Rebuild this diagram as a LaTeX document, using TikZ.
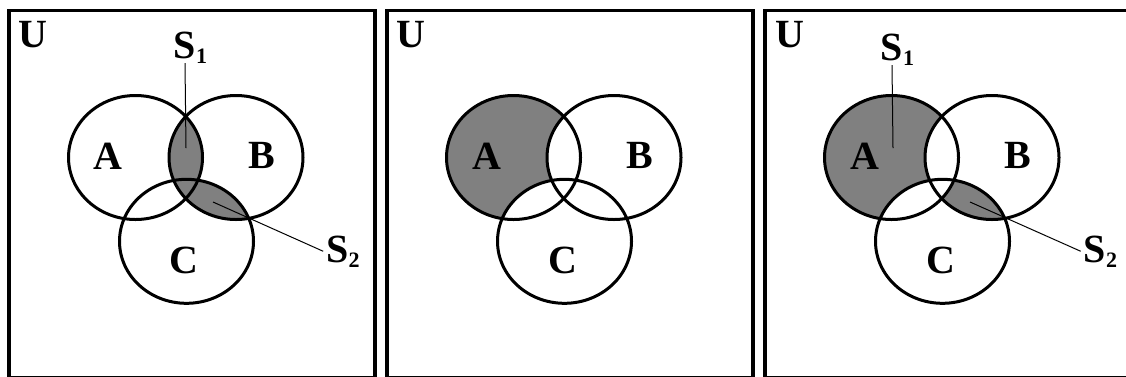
\documentclass[tikz,border=0pt]{standalone}
\usepackage{fontspec}
\setmainfont{Liberation Serif}
\usetikzlibrary{positioning}

\newcommand{\subidx}[1]{\raisebox{-5pt}{\fontsize{22}{22}\selectfont #1}}
\newcommand{\ringA}{(126.5,157.5) ellipse [x radius=67pt, y radius=62pt]}
\newcommand{\ringB}{(227,157.5) ellipse [x radius=67pt, y radius=62pt]}
\newcommand{\ringC}{(177.5,241.3) ellipse [x radius=67pt, y radius=62pt]}

\tikzset{
  frame/.style={line width=3.5pt},
  ring/.style={line width=3pt},
  shaded/.style={fill=black!50},
  lbl/.style={font=\fontsize{40}{40}\selectfont\bfseries, inner sep=0pt, anchor=base},
  tag/.style={lbl, inner xsep=3pt},
  pointer/.style={line width=1pt},
}

\begin{document}
\begin{tikzpicture}[x=1pt,y=-1pt]
\useasboundingbox (0,0) rectangle (1126,376);

% left panel
\begin{scope}[xshift=9pt]
\draw[frame] (0,10.5) rectangle (366,378);
\begin{scope}
\clip \ringB;
\fill[shaded] \ringA;
\fill[shaded] \ringC;
\end{scope}
\draw[ring] \ringA;
\draw[ring] \ringB;
\draw[ring] \ringC;
\node[lbl] (u1) at (24,47) {U};
\node[lbl] (a1) at (99,169) {A};
\node[lbl] (b1) at (252.5,168) {B};
\node[lbl] (c1) at (175,273) {C};
\node[tag] (s1a) at (176,58) {S\rlap{\subidx{1}}};
\node[tag] (s2a) at (328.5,262) {S\rlap{\subidx{2}}};
\coordinate (s1atip) at (177,148);
\coordinate (s2atip) at (204,202);
\draw[pointer] (s1a.south) -- (s1atip);
\draw[pointer] (s2atip) -- (s2a.west);
\end{scope}

% middle panel
\begin{scope}[xshift=387pt]
\draw[frame] (0,10.5) rectangle (366,378);
\fill[shaded] \ringA;
\fill[white] \ringB;
\fill[white] \ringC;
\draw[ring] \ringA;
\draw[ring] \ringB;
\draw[ring] \ringC;
\node[lbl] (u2) at (24,47) {U};
\node[lbl] (a2) at (100,169) {A};
\node[lbl] (b2) at (252.5,168) {B};
\node[lbl] (c2) at (175.5,273) {C};
\end{scope}

% right panel
\begin{scope}[xshift=765pt]
\draw[frame] (0,10.5) rectangle (366,378);
\fill[shaded] \ringA;
\fill[white] \ringB;
\fill[white] \ringC;
\begin{scope}
\clip \ringB;
\fill[shaded] \ringC;
\end{scope}
\begin{scope}
\clip \ringA;
\clip \ringB;
\fill[white] \ringC;
\end{scope}
\draw[ring] \ringA;
\draw[ring] \ringB;
\draw[ring] \ringC;
\node[lbl] (u3) at (25,47) {U};
\node[lbl] (a3) at (100,169) {A};
\node[lbl] (b3) at (252.5,168) {B};
\node[lbl] (c3) at (176,273) {C};
\node[tag] (s1c) at (127,60) {S\rlap{\subidx{1}}};
\node[tag] (s2c) at (330,262) {S\rlap{\subidx{2}}};
\coordinate (s1ctip) at (128,148);
\coordinate (s2ctip) at (205,202);
\draw[pointer] (s1c.south) -- (s1ctip);
\draw[pointer] (s2ctip) -- (s2c.west);
\end{scope}
\end{tikzpicture}
\end{document}
